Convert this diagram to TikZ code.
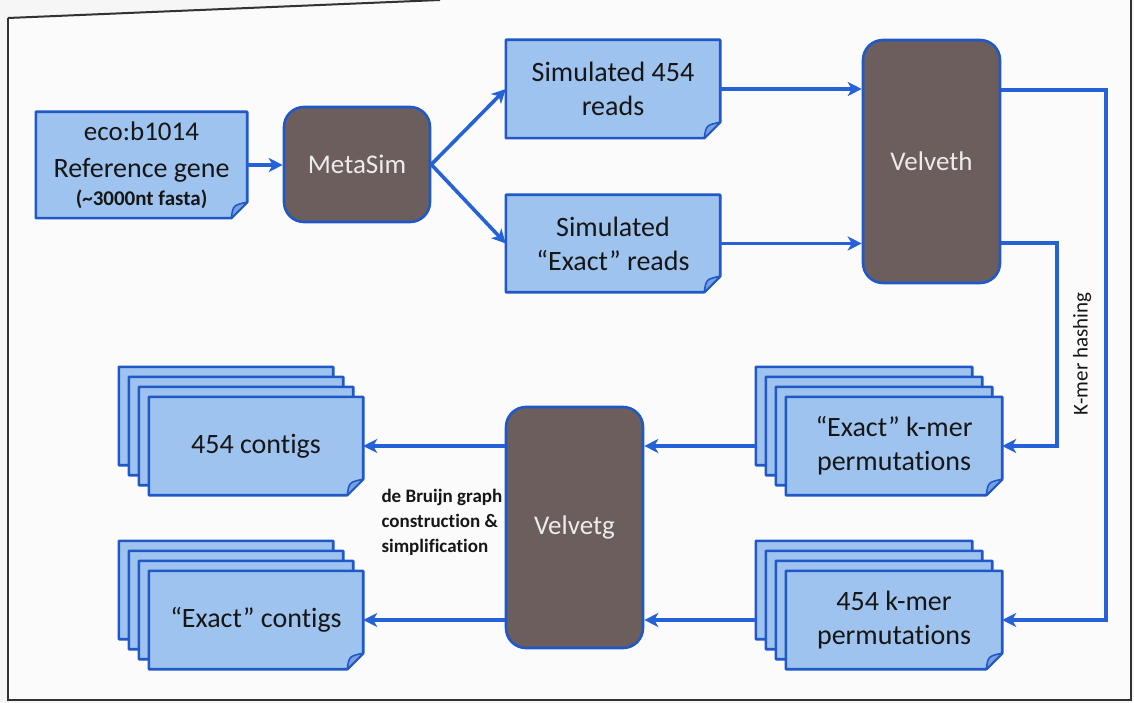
\documentclass[tikz,border=0pt]{standalone}
\usepackage{fontspec}
\setmainfont{Carlito}[Ligatures=NoCommon]
\usetikzlibrary{arrows.meta,calc}
\pgfdeclarelayer{back}
\pgfdeclarelayer{bg}
\pgfsetlayers{back,bg,main}
\definecolor{docfill}{RGB}{158,195,238}
\definecolor{flapfill}{RGB}{120,160,225}
\definecolor{docblue}{RGB}{32,88,200}
\definecolor{arrowblue}{RGB}{38,98,215}
\definecolor{procfill}{RGB}{108,94,93}
\definecolor{proctext}{RGB}{236,236,236}
\definecolor{txt}{RGB}{22,22,22}
\definecolor{pagebg}{RGB}{246,246,246}
\definecolor{framecol}{RGB}{50,50,50}
\newcommand\docshape[2]{%
 \filldraw[docline] ([xshift=-#2pt,yshift=#2pt]#1.north west) -- ([xshift=-#2pt,yshift=#2pt]#1.north east) -- ([xshift=-#2pt,yshift=#2pt+16pt]#1.south east) -- ([xshift=-#2pt-16pt,yshift=#2pt]#1.south east) -- ([xshift=-#2pt,yshift=#2pt]#1.south west) -- cycle;
 \filldraw[flap] ([xshift=-#2pt,yshift=#2pt+16pt]#1.south east) .. controls ([xshift=-#2pt-14pt,yshift=#2pt+13pt]#1.south east) .. ([xshift=-#2pt-16pt,yshift=#2pt]#1.south east) -- cycle;}
\begin{document}
\begin{tikzpicture}[x=1pt,y=-1pt,
 docnode/.style={inner sep=0pt, text=txt, font=\fontsize{28}{34}\selectfont, align=center},
 docline/.style={fill=docfill, draw=docblue, line width=2.6pt, line join=round},
 flap/.style={fill=flapfill, draw=docblue, line width=1.6pt, line join=round},
 proc/.style={rounded corners=20pt, fill=procfill, draw=docblue, line width=2.6pt, text=proctext, font=\fontsize{27}{32}\selectfont, inner sep=0pt},
 flow/.style={draw=arrowblue, line width=3.6pt, line join=miter, -{Stealth[length=14pt,width=14pt,inset=4pt]}},
 lbl/.style={text=txt}]
\useasboundingbox (0,0) rectangle (1134,703);
\begin{pgfonlayer}{back}
 \fill[pagebg] (0,0) rectangle (1134,703);
 \fill[white!97!gray] (8,18) -- (440,0) -- (1131,0) -- (1131,700) -- (8,700) -- cycle;
 \draw[framecol, line width=2pt] (8,18) -- (440,0);
 \draw[framecol, line width=2pt] (8,18) -- (8,700) -- (1131,700) -- (1131,0);
\end{pgfonlayer}
% document nodes
\node[docnode, minimum width=211pt, minimum height=106pt] (ref) at (141.5,165) {\raisebox{3pt}{\fontsize{27}{35}\selectfont eco:b1014}\\Reference gene\\[-6pt]{\fontsize{21}{24}\selectfont\bfseries (\textasciitilde3000nt fasta)}};
\node[docnode, minimum width=214pt, minimum height=98pt] (sim454) at (613,89) {Simulated 454\\reads};
\node[docnode, minimum width=214pt, minimum height=97pt] (simexact) at (613,243.5) {Simulated\\“Exact” reads};
\node[docnode, minimum width=216pt, minimum height=98pt] (exactkmer) at (894,446) {“Exact” k-mer\\permutations};
\node[docnode, minimum width=216pt, minimum height=98pt] (kmer454) at (894,620) {454 k-mer\\permutations};
\node[docnode, minimum width=214pt, minimum height=98pt] (contigs454) at (256,446) {454 contigs};
\node[docnode, minimum width=214pt, minimum height=98pt] (exactcontigs) at (256,620) {“Exact” contigs};
\begin{pgfonlayer}{bg}
 \docshape{ref}{0}
 \docshape{sim454}{0}
 \docshape{simexact}{0}
 \foreach \k in {30,20,10,0} {\docshape{exactkmer}{\k}}
 \foreach \k in {30,20,10,0} {\docshape{kmer454}{\k}}
 \foreach \k in {30,20,10,0} {\docshape{contigs454}{\k}}
 \foreach \k in {30,20,10,0} {\docshape{exactcontigs}{\k}}
\end{pgfonlayer}
% process nodes
\node[proc, minimum width=146pt, minimum height=115pt] (meta) at (357,164.5) {MetaSim};
\node[proc, minimum width=137pt, minimum height=243pt] (velveth) at (931.5,161.5) {Velveth};
\node[proc, minimum width=137pt, minimum height=241pt] (velvetg) at (574.5,527.5) {Velvetg};
% labels
\node[lbl, font=\fontsize{21}{24}\selectfont, rotate=90] (khash) at (1082,354) {K-mer hashing};
\node[lbl, font=\fontsize{19}{25}\selectfont\bfseries, align=left, anchor=west] (dbg) at (378,522) {de Bruijn graph\\construction \&\\simplification};
% connectors
\draw[flow] (ref.east) -- (ref.east -| meta.west);
\draw[flow] (meta.east) -- (sim454.west);
\draw[flow] (meta.east) -- (simexact.west);
\draw[flow] (sim454.east) -- (sim454.east -| velveth.west);
\draw[flow] (simexact.east) -- (simexact.east -| velveth.west);
\coordinate (ohi) at (1106,90);
\coordinate (ihi) at (1057,243);
\draw[flow] (velveth.east |- ohi) -- (ohi) -- (ohi |- kmer454.east) -- (kmer454.east);
\draw[flow] (velveth.east |- ihi) -- (ihi) -- (ihi |- exactkmer.east) -- (exactkmer.east);
\coordinate (ek) at ([xshift=-30pt]exactkmer.west);
\coordinate (k4) at ([xshift=-30pt]kmer454.west);
\draw[flow] (ek) -- (ek -| velvetg.east);
\draw[flow] (k4) -- (k4 -| velvetg.east);
\draw[flow] (velvetg.west |- contigs454.east) -- (contigs454.east);
\draw[flow] (velvetg.west |- exactcontigs.east) -- (exactcontigs.east);
\end{tikzpicture}
\end{document}
